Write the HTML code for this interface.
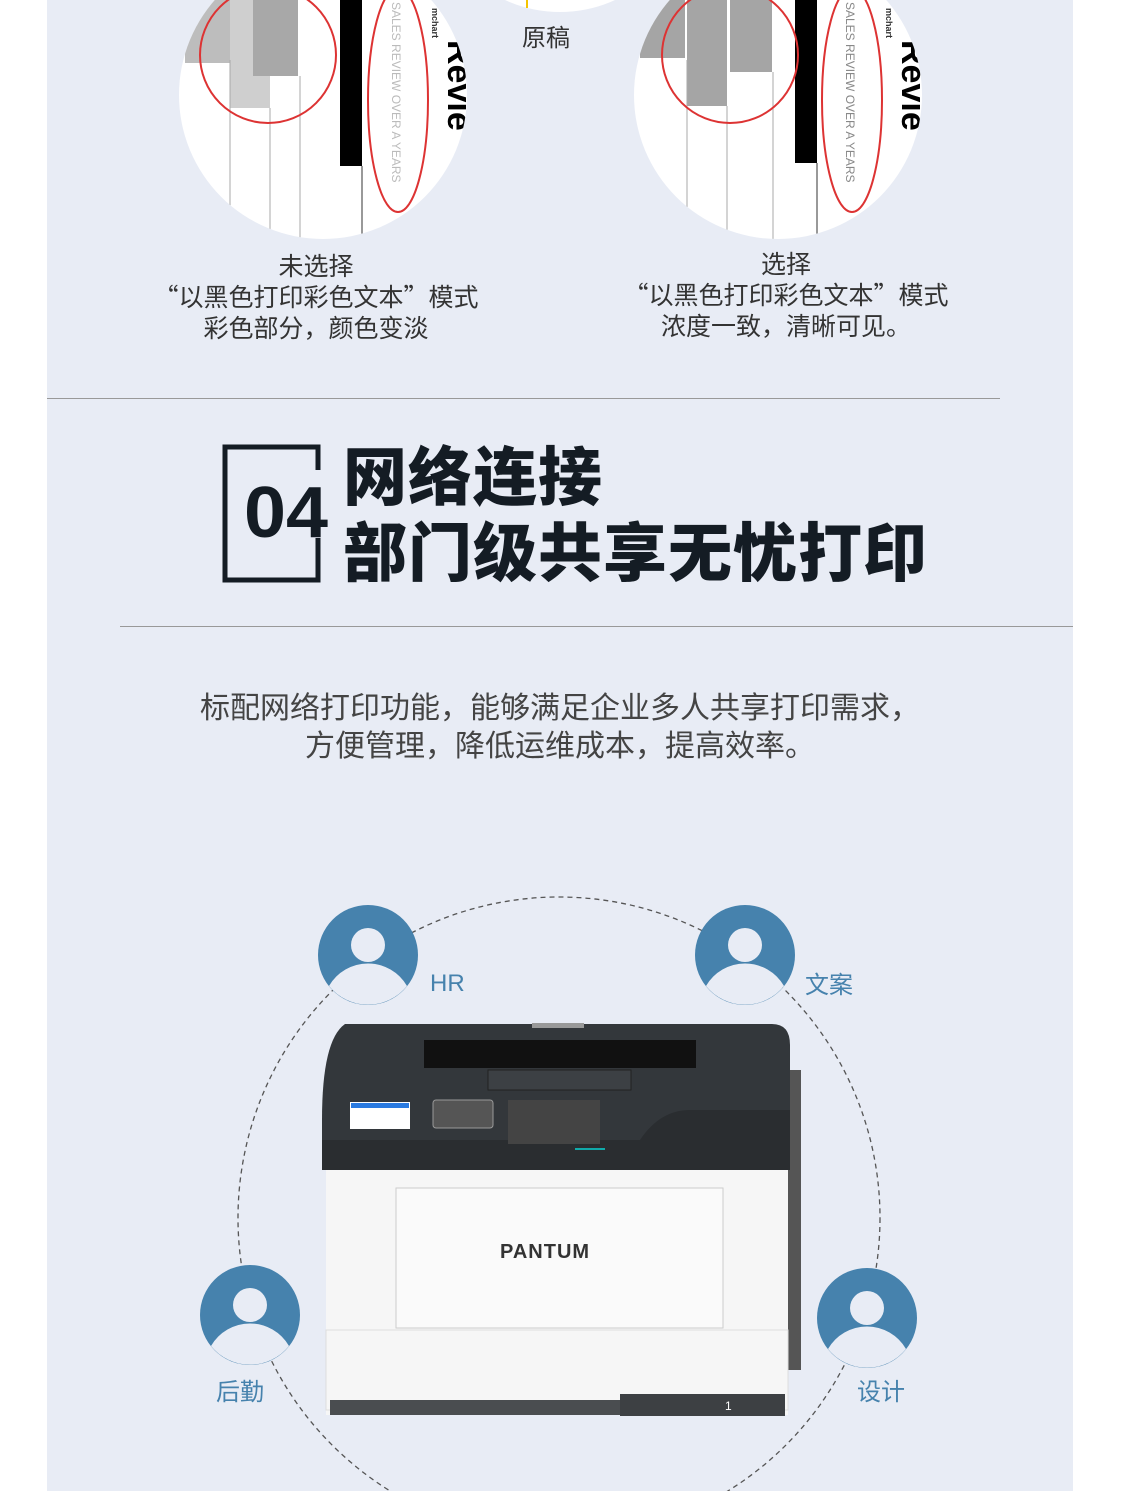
<!DOCTYPE html>
<html><head><meta charset="utf-8"><style>
body{margin:0;width:1133px;height:1491px;background:#fff;position:relative;overflow:hidden;font-family:"Liberation Sans","Noto Sans CJK SC",sans-serif}
.bg{position:absolute;left:47px;top:0;width:1026px;height:1491px;background:#e8ecf5}
.t{position:absolute;color:#333;text-align:center;white-space:nowrap}
.cj{font-family:"Noto Sans CJK SC",sans-serif}
</style></head><body>
<div class="bg"></div>
<svg width="1133" height="1491" style="position:absolute;left:0;top:0">
<defs>
<clipPath id="c1"><circle cx="323" cy="95" r="144"/></clipPath>
<clipPath id="c2"><circle cx="778" cy="95" r="144"/></clipPath>
</defs>
<circle cx="560" cy="-120" r="132" fill="#fff"/>
<rect x="526" y="0" width="2" height="8" fill="#f5c400"/>
<g clip-path="url(#c1)">
<rect x="170" y="-60" width="310" height="310" fill="#fff"/>
<rect x="185" y="0" width="45" height="63" fill="#bdbdbd"/>
<rect x="230" y="0" width="40" height="108" fill="#cfcfcf"/>
<rect x="253" y="0" width="45" height="76" fill="#a8a8a8"/>
<rect x="340" y="0" width="22" height="166" fill="#000"/>
<line x1="230" y1="60" x2="230" y2="240" stroke="#aaa"/><line x1="270" y1="108" x2="270" y2="240" stroke="#aaa"/><line x1="300" y1="76" x2="300" y2="240" stroke="#aaa"/><line x1="362" y1="166" x2="362" y2="240" stroke="#333"/>
<text transform="translate(392,2) rotate(90)" font-size="12" fill="#bbb">SALES REVIEW OVER A YEARS</text>
<text transform="translate(432,8) rotate(90)" font-size="9" font-weight="bold" fill="#333">mchart</text>
<text transform="translate(448,40) rotate(90)" font-size="34" font-weight="bold" fill="#000">Revie</text>
</g>
<circle cx="268" cy="55" r="68" fill="none" stroke="#d33" stroke-width="2"/>
<ellipse cx="398" cy="100" rx="30" ry="112" fill="none" stroke="#d33" stroke-width="2"/>
<g clip-path="url(#c2)">
<rect x="625" y="-60" width="310" height="310" fill="#fff"/>
<rect x="640" y="0" width="45" height="58" fill="#a5a5a5"/>
<rect x="687" y="0" width="40" height="106" fill="#a5a5a5"/>
<rect x="730" y="0" width="42" height="72" fill="#a5a5a5"/>
<rect x="795" y="0" width="22" height="163" fill="#000"/>
<line x1="687" y1="60" x2="687" y2="240" stroke="#aaa"/><line x1="727" y1="106" x2="727" y2="240" stroke="#aaa"/><line x1="773" y1="72" x2="773" y2="240" stroke="#aaa"/><line x1="817" y1="163" x2="817" y2="240" stroke="#333"/>
<text transform="translate(846,2) rotate(90)" font-size="12" fill="#888">SALES REVIEW OVER A YEARS</text>
<text transform="translate(886,8) rotate(90)" font-size="9" font-weight="bold" fill="#333">mchart</text>
<text transform="translate(902,40) rotate(90)" font-size="34" font-weight="bold" fill="#000">Revie</text>
</g>
<circle cx="730" cy="55" r="68" fill="none" stroke="#d33" stroke-width="2"/>
<ellipse cx="852" cy="100" rx="30" ry="112" fill="none" stroke="#d33" stroke-width="2"/>
<line x1="47" y1="398.5" x2="1000" y2="398.5" stroke="#999" stroke-width="1"/>
<line x1="120" y1="626.5" x2="1073" y2="626.5" stroke="#999" stroke-width="1"/>
<path d="M318 470 V447 H225 V580 H318 V538" fill="none" stroke="#141c24" stroke-width="5"/>
<text x="244" y="537" font-size="72" font-weight="bold" fill="#141c24" textLength="84" lengthAdjust="spacingAndGlyphs">04</text>
<circle cx="559" cy="1218" r="321" fill="none" stroke="#555" stroke-width="1.3" stroke-dasharray="5 4"/>
<g fill="#4682ad">
<g transform="translate(368,955)"><circle r="50"/><circle cy="-10" r="17" fill="#e8ecf5"/><path d="M-39 31 A45 45 0 0 1 39 31 A50 50 0 0 1 -39 31Z" fill="#e8ecf5"/></g>
<g transform="translate(745,955)"><circle r="50"/><circle cy="-10" r="17" fill="#e8ecf5"/><path d="M-39 31 A45 45 0 0 1 39 31 A50 50 0 0 1 -39 31Z" fill="#e8ecf5"/></g>
<g transform="translate(250,1315)"><circle r="50"/><circle cy="-10" r="17" fill="#e8ecf5"/><path d="M-39 31 A45 45 0 0 1 39 31 A50 50 0 0 1 -39 31Z" fill="#e8ecf5"/></g>
<g transform="translate(867,1318)"><circle r="50"/><circle cy="-10" r="17" fill="#e8ecf5"/><path d="M-39 31 A45 45 0 0 1 39 31 A50 50 0 0 1 -39 31Z" fill="#e8ecf5"/></g>
</g>
<g font-size="24" fill="#4682ad">
<text x="430" y="991">HR</text><text x="805" y="993">文案</text><text x="216" y="1400">后勤</text><text x="857" y="1400">设计</text>
</g>
<rect x="785" y="1070" width="16" height="300" fill="#555"/>
<path d="M345 1024 H772 Q790 1024 790 1045 V1160 H322 V1120 Q322 1040 345 1024Z" fill="#33373b"/>
<path d="M322 1170 H790 V1110 H690 Q660 1110 640 1140 H322Z" fill="#2a2d30"/>
<rect x="424" y="1040" width="272" height="28" fill="#111"/>
<rect x="488" y="1070" width="143" height="20" fill="#3c4044" stroke="#222"/>
<rect x="532" y="1023" width="52" height="5" fill="#999"/>
<rect x="350" y="1102" width="60" height="27" fill="#fff"/><rect x="351" y="1103" width="58" height="5" fill="#2a7ae0"/>
<rect x="433" y="1100" width="60" height="28" rx="3" fill="#555" stroke="#999"/>
<rect x="508" y="1100" width="92" height="44" fill="#444"/>
<rect x="575" y="1148" width="30" height="2" fill="#1aa"/>
<rect x="326" y="1170" width="462" height="245" fill="#f6f6f6"/>
<rect x="396" y="1188" width="327" height="140" fill="#fafafa" stroke="#ccc"/>
<rect x="326" y="1330" width="462" height="80" fill="#f6f6f6" stroke="#ddd"/>
<path d="M330 1400 H785 V1415 H330Z" fill="#4a4d50"/>
<rect x="620" y="1394" width="165" height="22" fill="#3d4043"/>
<text x="725" y="1410" font-size="12" fill="#fff">1</text>
<text x="500" y="1258" font-size="20" font-weight="bold" fill="#333" letter-spacing="1">PANTUM</text>
</svg>
<div class="t cj" style="left:500px;top:18px;width:92px;font-size:24px">原稿</div>
<div class="t cj" style="left:100px;top:250px;width:432px;font-size:25px;line-height:31px">未选择<br>“以黑色打印彩色文本”模式<br>彩色部分，颜色变淡</div>
<div class="t cj" style="left:570px;top:248px;width:432px;font-size:25px;line-height:31px">选择<br>“以黑色打印彩色文本”模式<br>浓度一致，清晰可见。</div>
<div class="t" style="left:343px;top:440px;font-size:64px;font-weight:900;color:#141c24;line-height:76px;text-align:left;letter-spacing:1px">网络连接<br>部门级共享无忧打印</div>
<div class="t cj" style="left:100px;top:686px;width:920px;font-size:30px;line-height:38px;color:#444">标配网络打印功能，能够满足企业多人共享打印需求，<br>方便管理，降低运维成本，提高效率。</div>
</body></html>
